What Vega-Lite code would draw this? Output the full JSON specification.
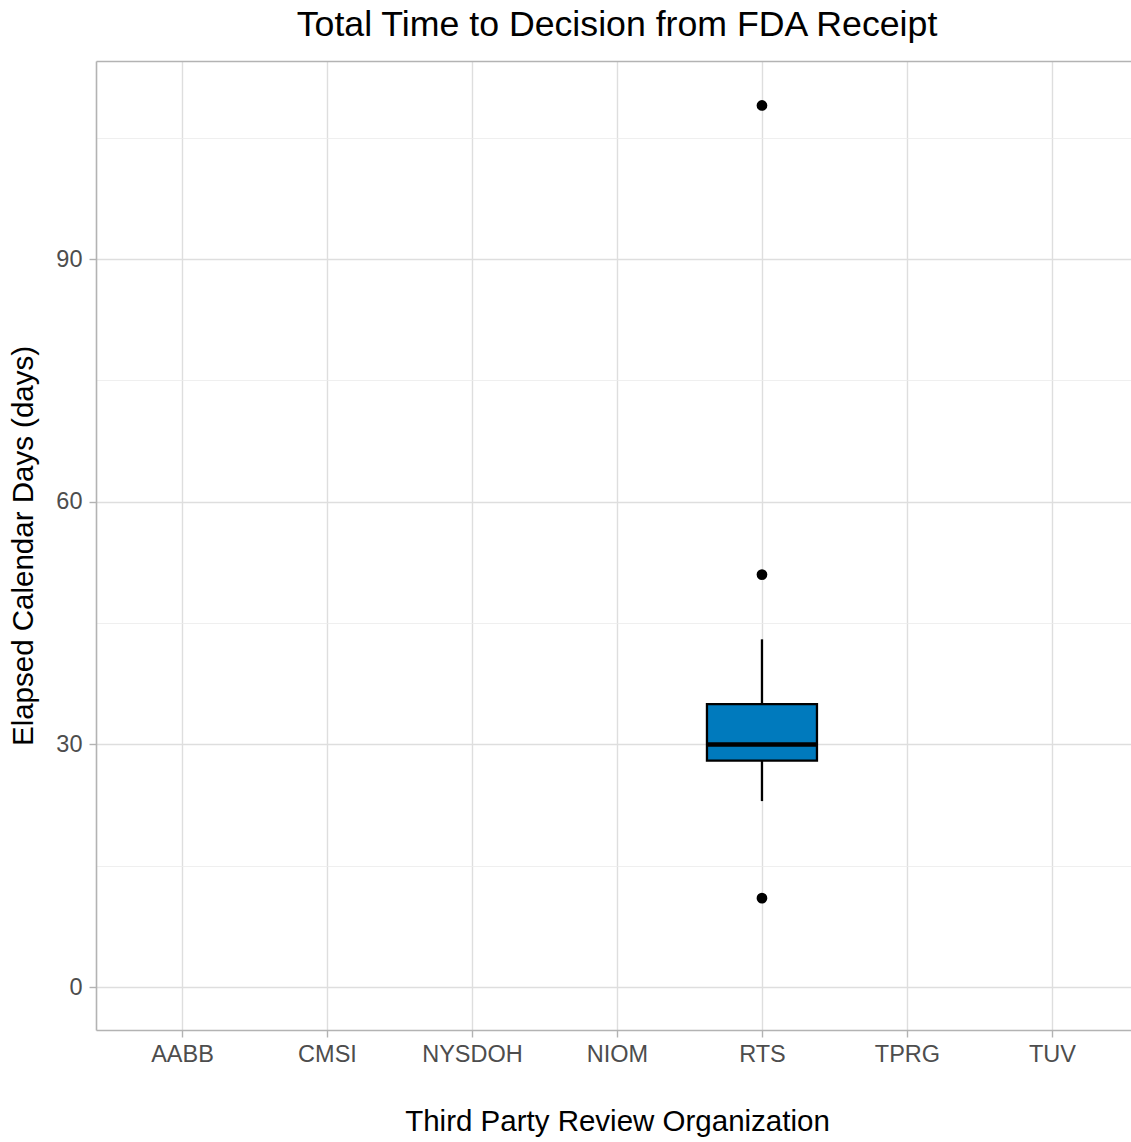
{
  "$schema": "https://vega.github.io/schema/vega-lite/v6.json",
  "autosize": {"type": "none"},
  "padding": {"left": 96, "top": 61, "right": 0, "bottom": 112},
  "width": 1035,
  "height": 969,
  "background": "white",
  "title": {
    "text": "Total Time to Decision from FDA Receipt",
    "fontSize": 35.7,
    "font": "Liberation Sans",
    "fontWeight": "normal",
    "color": "#000000",
    "anchor": "middle",
    "baseline": "alphabetic",
    "offset": -11,
    "dx": 3.5
  },
  "config": {
    "view": {"stroke": null},
    "axis": {
      "domain": true,
      "domainColor": "#B3B3B3",
      "domainWidth": 1.6,
      "tickColor": "#B3B3B3",
      "tickWidth": 1.4,
      "tickSize": 7,
      "gridColor": "#DEDEDE",
      "gridWidth": 1.4,
      "labelFont": "Liberation Sans",
      "labelFontSize": 23.5,
      "labelColor": "#4D4D4D",
      "labelPadding": 7,
      "titleFont": "Liberation Sans",
      "titleFontSize": 29.5,
      "titleFontWeight": "normal",
      "titleColor": "#000000"
    }
  },
  "datasets": {
    "box": [
      {"org": "RTS", "lower": 23, "q1": 28, "median": 30, "q3": 35, "upper": 43}
    ],
    "out": [
      {"org": "RTS", "days": 109},
      {"org": "RTS", "days": 51},
      {"org": "RTS", "days": 11}
    ]
  },
  "encoding": {
    "x": {
      "field": "org",
      "type": "nominal",
      "scale": {
        "type": "point",
        "domain": ["AABB", "CMSI", "NYSDOH", "NIOM", "RTS", "TPRG", "TUV"],
        "padding": 0.569,
        "align": 0.521
      },
      "axis": {
        "labelAngle": 0,
        "labelPadding": 5,
        "grid": true,
        "title": "Third Party Review Organization",
        "titleX": 521,
        "titleY": 100.8,
        "titleBaseline": "alphabetic"
      }
    }
  },
  "layer": [
    {
      "data": {"name": "box"},
      "mark": {"type": "rule", "color": "#000000", "strokeWidth": 2.3},
      "encoding": {
        "y": {
          "field": "lower",
          "type": "quantitative",
          "scale": {"domain": [-5.3, 114.5], "nice": false, "zero": false},
          "title": "Elapsed Calendar Days (days)",
          "axis": {
            "values": [0, 15, 30, 45, 60, 75, 90, 105, 114.5],
            "labelExpr": "datum.value % 30 === 0 ? datum.label : ''",
            "tickOpacity": {"condition": {"test": "datum.value % 30 !== 0", "value": 0}, "value": 1},
            "gridColor": {"condition": [
              {"test": "datum.value > 110", "value": "#B3B3B3"},
              {"test": "datum.value % 30 !== 0", "value": "#EBEBEB"}
            ], "value": "#DEDEDE"},
            "gridWidth": {"condition": [
              {"test": "datum.value > 110", "value": 1.6},
              {"test": "datum.value % 30 !== 0", "value": 0.8}
            ], "value": 1.4},
            "titleX": -64,
            "titleBaseline": "alphabetic"
          }
        },
        "y2": {"field": "upper"}
      }
    },
    {
      "data": {"name": "box"},
      "mark": {"type": "bar", "width": 110, "fill": "#007ABD", "stroke": "#000000", "strokeWidth": 2.3},
      "encoding": {
        "y": {"field": "q1", "type": "quantitative", "title": "Elapsed Calendar Days (days)"},
        "y2": {"field": "q3"}
      }
    },
    {
      "data": {"name": "box"},
      "mark": {"type": "tick", "size": 110, "thickness": 4.5, "color": "#000000", "opacity": 1},
      "encoding": {
        "y": {"field": "median", "type": "quantitative", "title": "Elapsed Calendar Days (days)"}
      }
    },
    {
      "data": {"name": "out"},
      "mark": {"type": "point", "filled": true, "size": 115, "color": "#000000", "opacity": 1},
      "encoding": {
        "y": {"field": "days", "type": "quantitative", "title": "Elapsed Calendar Days (days)"}
      }
    }
  ]
}
